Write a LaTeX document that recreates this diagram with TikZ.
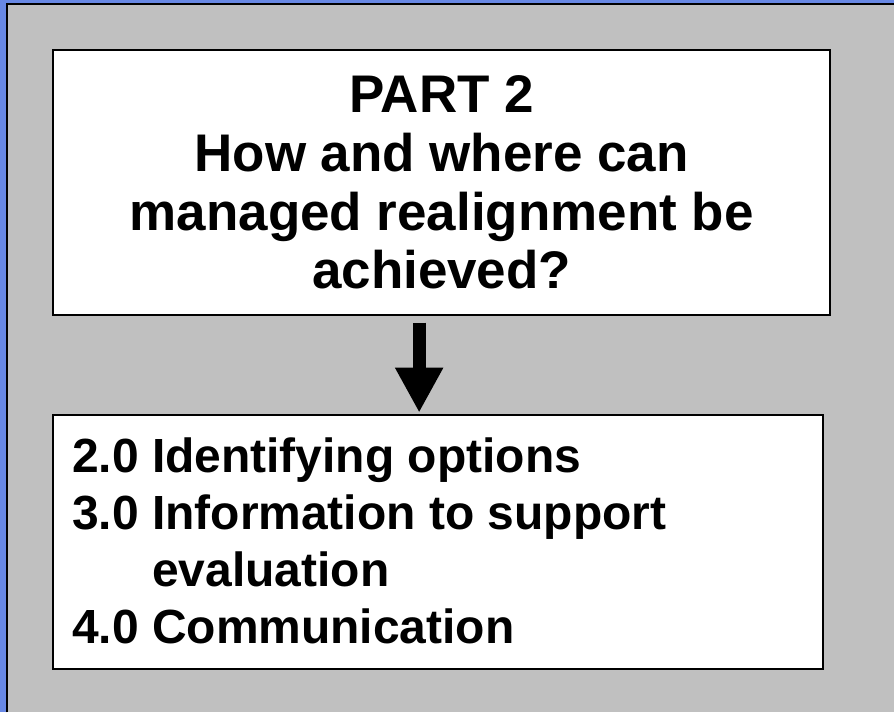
\documentclass[tikz,border=0pt]{standalone}
\usepackage{fontspec}
\setmainfont{Liberation Sans}
\usepackage{tikz}
\usetikzlibrary{arrows.meta}
\usetikzlibrary{calc}
\definecolor{slideblue}{RGB}{104,136,228}
\definecolor{slidegray}{RGB}{192,192,192}
\tikzset{textbox/.style={draw=black, fill=white, line width=2pt, inner sep=0pt}}

\begin{document}
\begin{tikzpicture}[x=1pt,y=-1pt]
  \fill[slideblue] (0,0) rectangle (895,713);
  \fill[slidegray] (7,4) rectangle (895,713);
  \draw[line width=1.5pt] (7,713) -- (7,4) -- (895,4);
  % boxes
  \node[textbox, minimum width=778pt, minimum height=265pt] (part) at (442,182.5) {};
  \node[textbox, minimum width=771pt, minimum height=255pt] (list) at (438.5,542.5) {};
  \node[anchor=north, align=center, inner sep=0pt, font=\fontsize{53}{59}\selectfont\bfseries] (parttext) at (442,75) {PART 2\\How and where can\\managed realignment be\\achieved?};
  \node[anchor=north west, align=left, inner sep=0pt, font=\fontsize{48}{57}\selectfont\bfseries] (listtext) at (72,437.6) {2.0 Identifying options\\3.0 Information to support\\\phantom{3.0 }evaluation\\4.0 Communication};
  % arrow
  \coordinate (shaft) at (419.5,323);
  \coordinate (tip) at (419.5,413);
  \draw[line width=13pt, -{Triangle[width=45pt,length=45pt]}] (shaft) -- (tip);
\end{tikzpicture}
\end{document}
